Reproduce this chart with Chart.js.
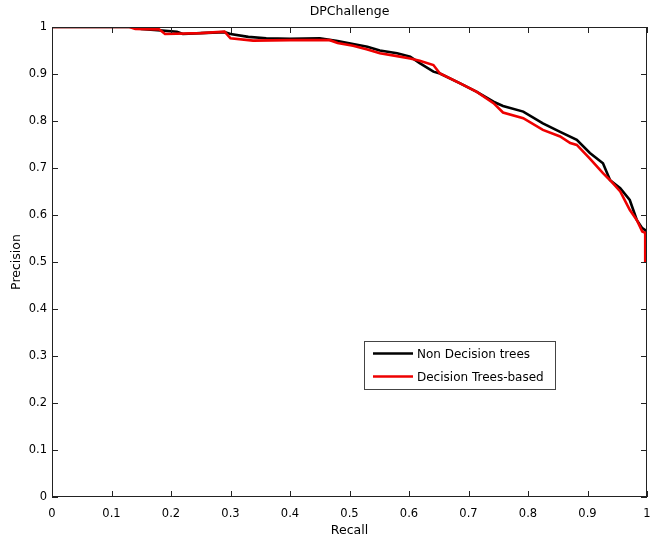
<!DOCTYPE html>
<html>
<head>
    <title>DPChallenge</title>
    <script src="https://cdn.jsdelivr.net/npm/chart.js"></script>
    <style>
        body { margin: 0; background: #fff; }
        canvas { display: block; }
    </style>
</head>
<body>
    <canvas id="prChart" width="650" height="539"></canvas>
<script>
// 축 눈금
const tickValues = [0, 0.1, 0.2, 0.3, 0.4, 0.5, 0.6, 0.7, 0.8, 0.9, 1];

// Non Decision trees (검정)
const nonDtRecall = [0, 0.14, 0.15, 0.21, 0.22, 0.25, 0.29, 0.30, 0.33, 0.36, 0.40, 0.45, 0.48, 0.506, 0.53, 0.551, 0.58, 0.602, 0.618, 0.641, 0.652, 0.686, 0.714, 0.742, 0.758, 0.792, 0.825, 0.854, 0.882, 0.904, 0.926, 0.938, 0.955, 0.971, 0.983, 0.992, 1.0];
const nonDtPrecision = [1, 1, 0.996, 0.99, 0.985, 0.987, 0.989, 0.985, 0.979, 0.976, 0.975, 0.976, 0.97, 0.964, 0.958, 0.950, 0.944, 0.937, 0.923, 0.905, 0.901, 0.880, 0.862, 0.841, 0.832, 0.820, 0.795, 0.777, 0.760, 0.732, 0.71, 0.674, 0.657, 0.632, 0.589, 0.572, 0.565];

// Decision Trees-based (빨강)
const dtRecall = [0, 0.13, 0.14, 0.18, 0.19, 0.25, 0.29, 0.30, 0.338, 0.40, 0.467, 0.48, 0.506, 0.53, 0.551, 0.58, 0.602, 0.618, 0.641, 0.652, 0.686, 0.714, 0.742, 0.758, 0.792, 0.825, 0.854, 0.871, 0.882, 0.904, 0.926, 0.938, 0.955, 0.971, 0.983, 0.992, 0.997, 0.997];
const dtPrecision = [1, 1, 0.996, 0.995, 0.985, 0.987, 0.99, 0.976, 0.971, 0.972, 0.972, 0.966, 0.960, 0.952, 0.944, 0.938, 0.933, 0.928, 0.919, 0.901, 0.880, 0.862, 0.838, 0.818, 0.806, 0.781, 0.767, 0.753, 0.749, 0.72, 0.689, 0.674, 0.65, 0.611, 0.589, 0.565, 0.562, 0.498];

const seriesNames = ['Non Decision trees', 'Decision Trees-based'];
const seriesColors = ['#000000', '#ee0000'];
const chartTitle = 'DPChallenge';

const toPoints = (xs, ys) => xs.map((x, i) => ({ x: x, y: ys[i] }));
const fontFamily = '"DejaVu Sans", Arial, sans-serif';
const axisColor = '#222';

// MATLAB 스타일 박스 + 안쪽 눈금 + 제목 + 범례
const boxPlugin = {
    id: 'matlabBox',
    afterDraw(chart) {
        const { ctx, chartArea: a, scales } = chart;
        ctx.save();
        ctx.strokeStyle = axisColor;
        ctx.lineWidth = 1;
        ctx.strokeRect(a.left + 0.5, a.top + 0.5, a.right - a.left - 1, a.bottom - a.top - 1);
        const len = 6;
        ctx.beginPath();
        tickValues.forEach(v => {
            const x = Math.round(scales.x.getPixelForValue(v)) + 0.5;
            ctx.moveTo(x, a.bottom); ctx.lineTo(x, a.bottom - len);
            ctx.moveTo(x, a.top); ctx.lineTo(x, a.top + len);
            const y = Math.round(scales.y.getPixelForValue(v)) + 0.5;
            ctx.moveTo(a.left, y); ctx.lineTo(a.left + len, y);
            ctx.moveTo(a.right, y); ctx.lineTo(a.right - len, y);
        });
        ctx.stroke();

        // 제목 (플롯 영역 가운데)
        ctx.fillStyle = '#000';
        ctx.font = '12.5px ' + fontFamily;
        ctx.textAlign = 'center';
        ctx.textBaseline = 'middle';
        ctx.fillText(chartTitle, (a.left + a.right) / 2, 12);

        // 범례
        const lx = 364, ly = 341, lw = 191, lh = 48;
        ctx.fillStyle = '#fff';
        ctx.fillRect(lx, ly, lw, lh);
        ctx.strokeStyle = '#444';
        ctx.lineWidth = 1;
        ctx.strokeRect(lx + 0.5, ly + 0.5, lw, lh);
        ctx.font = '12px ' + fontFamily;
        ctx.textBaseline = 'middle';
        ctx.textAlign = 'left';
        seriesNames.forEach((name, i) => {
            const yy = 353.5 + i * 23;
            ctx.strokeStyle = seriesColors[i];
            ctx.lineWidth = 2.5;
            ctx.beginPath();
            ctx.moveTo(373, yy); ctx.lineTo(413, yy);
            ctx.stroke();
            ctx.fillStyle = '#000';
            ctx.fillText(name, 417, yy + 1);
        });
        ctx.restore();
    }
};

new Chart(document.getElementById('prChart'), {
    type: 'line',
    data: {
        datasets: [{
            label: seriesNames[0],
            data: toPoints(nonDtRecall, nonDtPrecision),
            borderColor: seriesColors[0],
            borderWidth: 2.6,
            pointRadius: 0,
            tension: 0,
            fill: false,
            order: 1
        }, {
            label: seriesNames[1],
            data: toPoints(dtRecall, dtPrecision),
            borderColor: seriesColors[1],
            borderWidth: 2.6,
            pointRadius: 0,
            tension: 0,
            fill: false,
            order: 0
        }]
    },
    options: {
        responsive: false,
        animation: false,
        devicePixelRatio: 1,
        layout: { padding: { left: 0, right: 3, top: 27, bottom: 0 } },
        plugins: {
            legend: { display: false },
            tooltip: { enabled: false },
            title: { display: false }
        },
        scales: {
            x: {
                type: 'linear',
                min: 0,
                max: 1,
                afterBuildTicks: s => { s.ticks = tickValues.map(v => ({ value: v })); },
                afterFit: s => { s.height = 42; s.paddingLeft = 0; s.paddingRight = 0; },
                grid: { display: false, drawTicks: false },
                border: { display: false },
                ticks: {
                    padding: 10,
                    autoSkip: false,
                    color: '#000',
                    maxRotation: 0,
                    font: { family: fontFamily, size: 11.5 },
                    callback: v => String(Math.round(v * 10) / 10)
                },
                title: {
                    display: true,
                    text: 'Recall',
                    color: '#000',
                    font: { family: fontFamily, size: 12.5 },
                    padding: { top: 0, bottom: 1 }
                }
            },
            y: {
                type: 'linear',
                min: 0,
                max: 1,
                afterBuildTicks: s => { s.ticks = tickValues.map(v => ({ value: v })); },
                afterFit: s => { s.width = 52; s.paddingTop = 0; s.paddingBottom = 0; },
                grid: { display: false, drawTicks: false },
                border: { display: false },
                ticks: {
                    padding: 5,
                    autoSkip: false,
                    color: '#000',
                    font: { family: fontFamily, size: 11.5 },
                    callback: v => String(Math.round(v * 10) / 10)
                },
                title: {
                    display: true,
                    text: 'Precision',
                    color: '#000',
                    font: { family: fontFamily, size: 12.5 },
                    padding: { top: 9, bottom: 0 }
                }
            }
        }
    },
    plugins: [boxPlugin]
});
</script>
</body>
</html>
